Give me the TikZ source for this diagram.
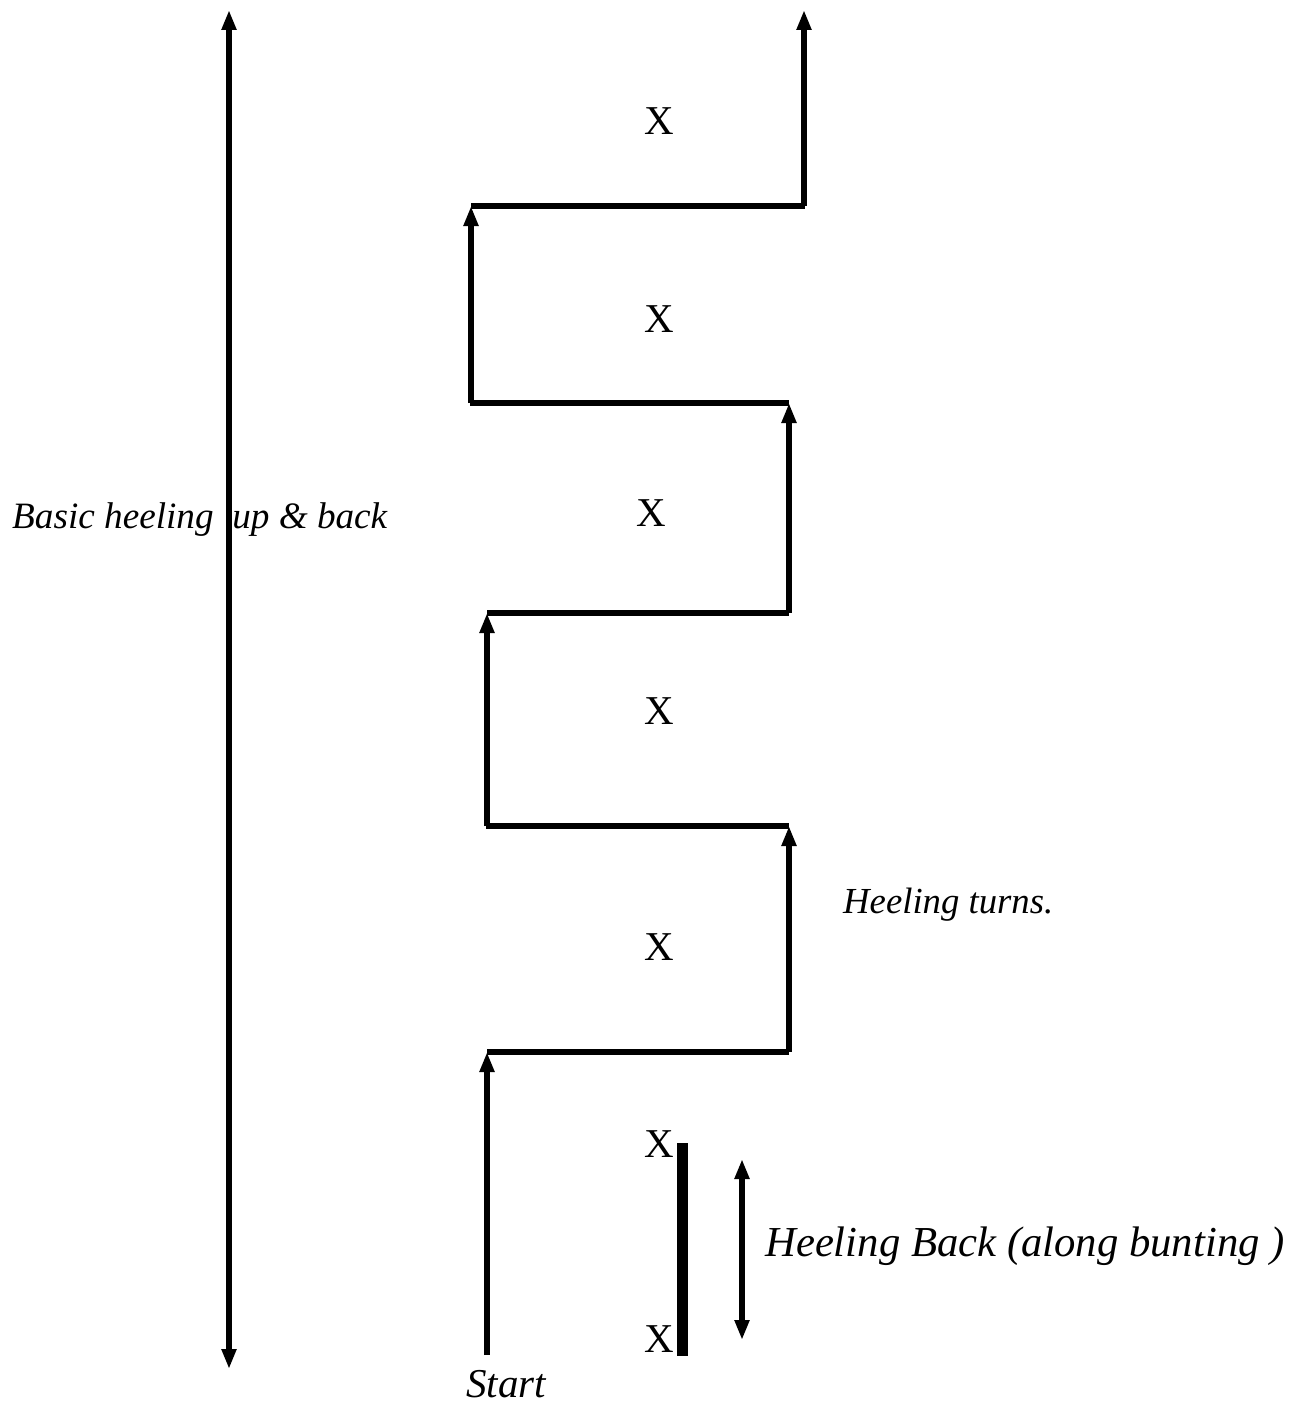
\documentclass[tikz,border=0pt]{standalone}
\usepackage{fontspec}
\setmainfont{Liberation Serif}
\usetikzlibrary{arrows.meta}
\begin{document}
\begin{tikzpicture}[x=1pt,y=-1pt,
  ln/.style={line width=5.5pt},
  uparrow/.style={ln,-{Triangle[length=20pt,width=14pt]}},
  dblarrow/.style={ln,{Triangle[length=20pt,width=14pt]}-{Triangle[length=20pt,width=14pt]}},
  xmark/.style={inner sep=0pt,anchor=base,font=\fontsize{41}{41}\selectfont},
  lbl/.style={inner sep=0pt,anchor=base west,font=\itshape\fontsize{#1}{#1}\selectfont}]
\useasboundingbox (0,0) rectangle (1295,1407);
% texts
\node[lbl=37.2] (basic) at (12,528) {Basic heeling \ up \& back};
\node[lbl=36.7] (turns) at (843,913) {Heeling turns.};
\node[lbl=42.7] (back) at (765,1256) {Heeling Back (along bunting )};
\node[lbl=41] (start) at (466,1397) {Start};
\node[xmark] (x1) at (659,135) {X};
\node[xmark] (x2) at (659,332) {X};
\node[xmark] (x3) at (651,526) {X};
\node[xmark] (x4) at (659,724) {X};
\node[xmark] (x5) at (659,960) {X};
\node[xmark] (x6) at (659,1157) {X};
\node[xmark] (x7) at (659,1352) {X};
% big double arrow
\coordinate (bt) at (229,10);
\coordinate (bb) at (229,1369);
\draw[dblarrow] (bb) -- (bt);
% zigzag path
\coordinate (p0) at (487,1355);
\coordinate (p1) at (487,1052);
\coordinate (p2) at (789,1052);
\coordinate (p3) at (789,826);
\coordinate (p4) at (486,826);
\coordinate (p5) at (487,613);
\coordinate (p6) at (789,613);
\coordinate (p7) at (789,403);
\coordinate (p8) at (470,403);
\coordinate (p9) at (471,206);
\coordinate (p10) at (805,206);
\coordinate (p11) at (804,10);
\draw[uparrow] (p0) -- (p1);
\draw[ln] (p1) -- (p2);
\draw[uparrow] (p2) -- (p3);
\draw[ln] (p3) -- (p4);
\draw[uparrow] (487,826) -- (p5);
\draw[ln] (p5) -- (p6);
\draw[uparrow] (p6) -- (p7);
\draw[ln] (p7) -- (p8);
\draw[uparrow] (471,403) -- (p9);
\draw[ln] (p9) -- (p10);
\draw[uparrow] (804,206) -- (p11);
% bunting bar
\fill (677,1143) rectangle (688,1356);
% small double arrow
\coordinate (st) at (742,1159);
\coordinate (sb) at (742,1340);
\draw[dblarrow] (sb) -- (st);
\end{tikzpicture}
\end{document}
